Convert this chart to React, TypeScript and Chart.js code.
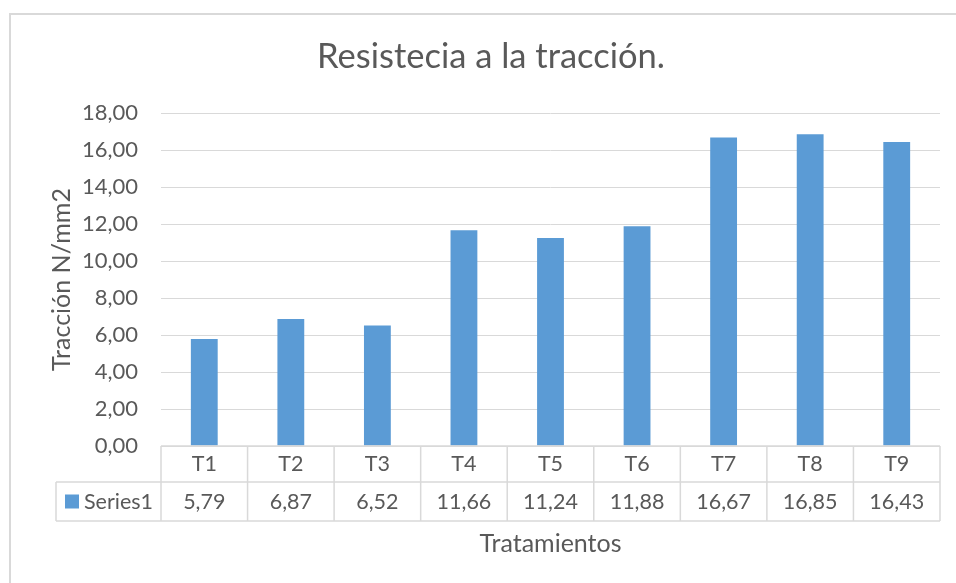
import React, { useEffect, useRef } from "react";
import { Chart, registerables } from "chart.js";

Chart.register(...registerables);

const categories = ["T1", "T2", "T3", "T4", "T5", "T6", "T7", "T8", "T9"];
const series1 = [5.79, 6.87, 6.52, 11.66, 11.24, 11.88, 16.67, 16.85, 16.43];
const seriesName = "Series1";
const chartTitle = "Resistecia a la tracción.";
const yTitle = "Tracción N/mm2";
const xTitle = "Tratamientos";

const FONT = "Lato, 'Open Sans', sans-serif";
const TEXT = "#595959";
const GRID = "#d9d9d9";
const BAR = "#5b9bd5";

const fmt = (v: number) => v.toFixed(2).replace(".", ",");

const tablePlugin = {
  id: "dataTable",
  beforeDraw(chart: any) {
    const ctx = chart.ctx;
    ctx.save();
    ctx.strokeStyle = GRID;
    ctx.lineWidth = 2;
    ctx.strokeRect(10, 14, chart.width + 20, chart.height + 20);
    ctx.restore();
  },
  afterDraw(chart: any) {
    const ctx = chart.ctx;
    const x = chart.scales.x;
    const area = chart.chartArea;
    const n = categories.length;
    const step = (area.right - area.left) / n;
    const row1Top = area.bottom;
    const row1Bot = area.bottom + 36;
    const row2Bot = row1Bot + 39;
    const tableLeft = 56;
    ctx.save();
    // chart title
    ctx.fillStyle = TEXT;
    ctx.font = `34.5px ${FONT}`;
    ctx.textAlign = "center";
    ctx.textBaseline = "alphabetic";
    ctx.fillText(chartTitle, 491, 68);

    ctx.strokeStyle = GRID;
    ctx.lineWidth = 1.5;
    ctx.beginPath();
    ctx.moveTo(area.left, row1Top);
    ctx.lineTo(area.right, row1Top);
    ctx.moveTo(tableLeft, row1Bot);
    ctx.lineTo(area.right, row1Bot);
    ctx.moveTo(tableLeft, row2Bot);
    ctx.lineTo(area.right, row2Bot);
    for (let i = 0; i <= n; i++) {
      const xx = i === n ? x.getPixelForValue(n - 1) + step / 2 : x.getPixelForValue(i) - step / 2;
      ctx.moveTo(xx, row1Top);
      ctx.lineTo(xx, row2Bot);
    }
    ctx.moveTo(tableLeft, row1Bot);
    ctx.lineTo(tableLeft, row2Bot);
    ctx.stroke();

    const midY = (row1Bot + row2Bot) / 2;
    ctx.fillStyle = TEXT;
    ctx.font = `21.5px ${FONT}`;
    ctx.textAlign = "center";
    ctx.textBaseline = "middle";
    series1.forEach((v, i) => {
      ctx.fillText(fmt(v), x.getPixelForValue(i), midY + 1);
    });
    ctx.fillStyle = BAR;
    ctx.fillRect(65, midY - 7, 14, 14);
    ctx.fillStyle = TEXT;
    ctx.textAlign = "left";
    ctx.fillText(seriesName, 84, midY + 1);
    ctx.restore();
  },
};

export default function App() {
  const ref = useRef<HTMLCanvasElement>(null);
  useEffect(() => {
    const canvas = ref.current!;
    const chart = new Chart(canvas, {
      type: "bar",
      data: {
        labels: categories,
        datasets: [
          {
            label: seriesName,
            data: series1,
            backgroundColor: BAR,
            categoryPercentage: 1,
            barPercentage: 0.31,
          },
        ],
      },
      options: {
        responsive: false,
        animation: false,
        layout: { padding: { left: 10, right: 16, top: 113, bottom: 0 } },
        plugins: {
          legend: { display: false },
          tooltip: { enabled: false },
          title: { display: false },
        },
        scales: {
          x: {
            afterFit: (s: any) => {
              s.height = 137;
            },
            grid: { display: false, drawTicks: false },
            border: { display: false },
            ticks: {
              color: TEXT,
              font: { family: FONT, size: 21.5 },
              padding: 5,
              maxRotation: 0,
            },
            title: {
              display: true,
              text: xTitle,
              color: TEXT,
              font: { family: FONT, size: 25 },
              padding: { top: 0, bottom: 24 },
            },
          },
          y: {
            min: 0,
            max: 18,
            afterFit: (s: any) => {
              s.width = 151;
            },
            grid: { color: GRID, lineWidth: 1, drawTicks: false },
            border: { display: false },
            ticks: {
              stepSize: 2,
              color: TEXT,
              font: { family: FONT, size: 22 },
              padding: 23,
              callback: (v: any) => fmt(Number(v)),
            },
            title: {
              display: true,
              text: yTitle,
              color: TEXT,
              font: { family: FONT, size: 25 },
              padding: { top: 37, bottom: 0 },
            },
          },
        },
      },
      plugins: [tablePlugin],
    });
    return () => chart.destroy();
  }, []);
  return (
    <div style={{ position: "fixed", left: 0, top: 0, width: 956, height: 583, background: "#fff" }}>
      <canvas ref={ref} width={956} height={583} style={{ display: "block" }} />
    </div>
  );
}
